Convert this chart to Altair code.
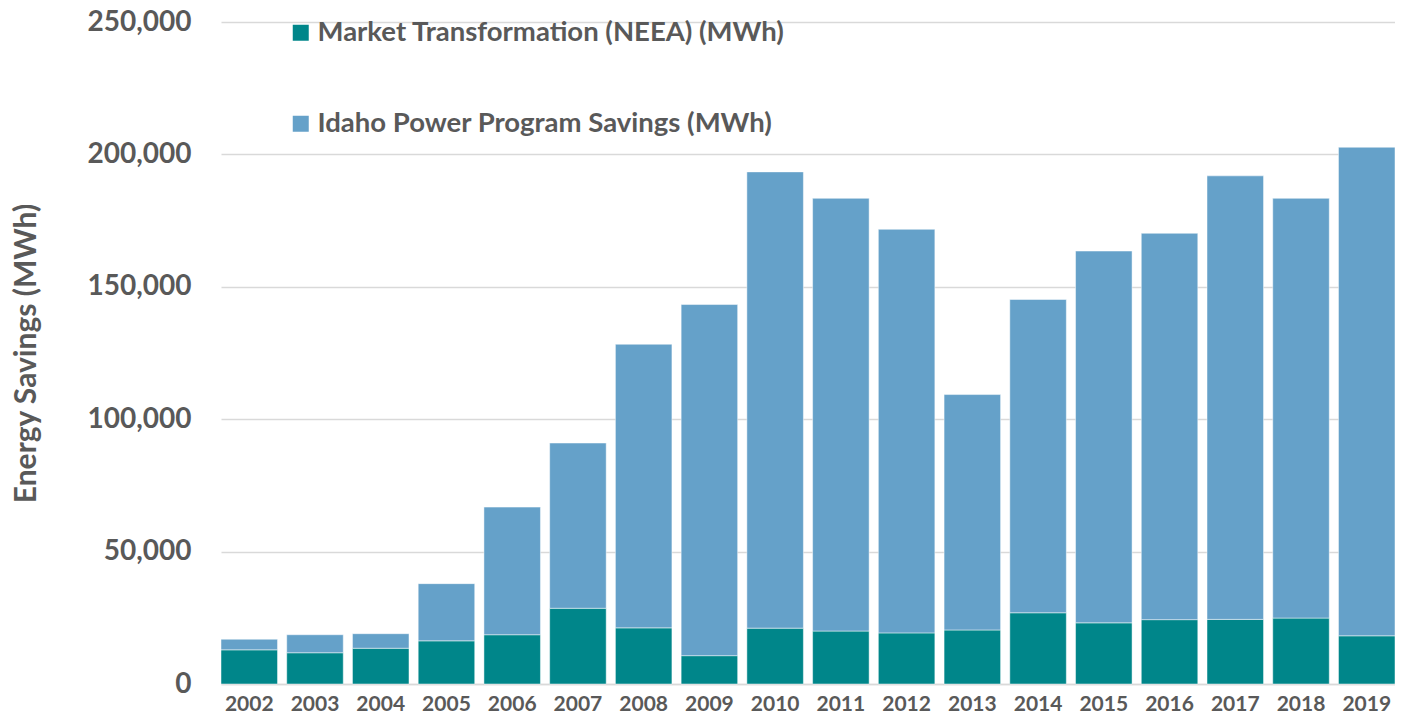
import altair as alt
import pandas as pd

years = [str(y) for y in range(2002, 2020)]
neea = [12.9, 11.8, 13.5, 16.3, 18.6, 28.6, 21.2, 10.7, 21.1, 20.0, 19.3, 20.4,
        26.9, 23.1, 24.3, 24.4, 24.9, 18.2]
totals = [16.9, 18.6, 19.0, 37.9, 66.8, 91.0, 128.3, 143.3, 193.4, 183.4, 171.7,
          109.3, 145.2, 163.5, 170.2, 191.9, 183.4, 202.7]
series = ["Market Transformation (NEEA) (MWh)", "Idaho Power Program Savings (MWh)"]
colors = ["#00868A", "#65A1C9"]
yticks = [0, 50000, 100000, 150000, 200000, 250000]

rows = []
for y, n, t in zip(years, neea, totals):
    rows.append({"Year": y, "Series": series[0], "MWh": n * 1000, "ord": 0})
    rows.append({"Year": y, "Series": series[1], "MWh": (t - n) * 1000, "ord": 1})
df = pd.DataFrame(rows)

FONT = "Lato"
GRAY = "#595959"

chart = alt.Chart(df).mark_bar(stroke="white", strokeWidth=0.8, strokeOpacity=0.6).encode(
    x=alt.X("Year:N", title=None, sort=years,
            scale=alt.Scale(paddingInner=0.14, paddingOuter=0),
            axis=alt.Axis(labelAngle=0, labelFont=FONT, labelFontSize=21,
                          labelFontWeight="bold", labelColor=GRAY, ticks=False,
                          domainColor="#D9D9D9", domainWidth=1.5, labelPadding=9)),
    y=alt.Y("MWh:Q", stack="zero", title="Energy Savings (MWh)",
            scale=alt.Scale(domain=[0, 250000]),
            axis=alt.Axis(values=yticks, format=",.0f", labelFont=FONT, labelFontSize=28,
                          labelFontWeight="bold", labelColor=GRAY, ticks=False,
                          domain=False, gridColor="#D9D9D9", gridWidth=1.5,
                          labelPadding=30, titleFont=FONT, titleFontSize=30,
                          titleFontWeight="bold", titleColor=GRAY,
                          titleX=-195, titleY=331, titleAngle=-90,
                          titleAlign="center", titleBaseline="middle")),
    color=alt.Color("Series:N", sort=series,
                    scale=alt.Scale(domain=series, range=colors),
                    legend=alt.Legend(title=None, orient="none", legendX=66, legendY=-3,
                                      padding=0,
                                      symbolType="square", symbolSize=256,
                                      symbolStrokeWidth=0, labelFont=FONT,
                                      labelFontSize=27.5, labelFontWeight="bold",
                                      labelColor=GRAY, labelOffset=3,
                                      rowPadding=62, labelLimit=800)),
    order=alt.Order("ord:Q", sort="ascending"),
).properties(
    width=1174, height=662,
    autosize=alt.AutoSizeParams(type="none"),
    padding={"left": 213, "top": 14, "right": 0, "bottom": 33},
).configure_view(stroke=None)

chart.save("out.html", embed_options={"renderer": "svg", "actions": False})
